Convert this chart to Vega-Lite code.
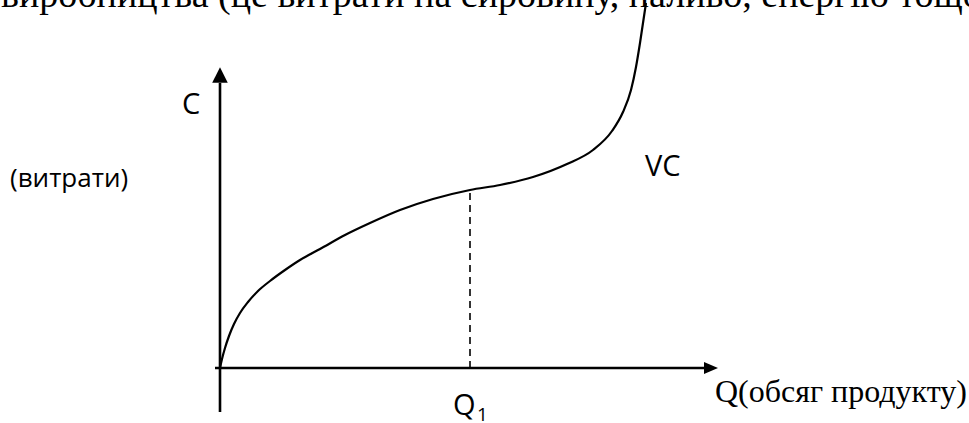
{
  "$schema": "https://vega.github.io/schema/vega-lite/v6.json",
  "width": 969,
  "height": 423,
  "autosize": {"type": "none"},
  "padding": 0,
  "background": "white",
  "config": {"view": {"stroke": null}},
  "datasets": {
    "curve": [
      {"q": 0, "c": 0}, {"q": 2, "c": 9}, {"q": 5, "c": 20}, {"q": 9, "c": 32},
      {"q": 14, "c": 44}, {"q": 20, "c": 55}, {"q": 28, "c": 66}, {"q": 38, "c": 77},
      {"q": 50, "c": 87}, {"q": 65, "c": 98}, {"q": 80, "c": 108}, {"q": 100, "c": 119},
      {"q": 125, "c": 133}, {"q": 150, "c": 145}, {"q": 180, "c": 158}, {"q": 213, "c": 169},
      {"q": 250, "c": 178}, {"q": 280, "c": 183}, {"q": 313, "c": 191}, {"q": 347, "c": 204},
      {"q": 373, "c": 218}, {"q": 392, "c": 237}, {"q": 403, "c": 256}, {"q": 411, "c": 278},
      {"q": 416, "c": 301}, {"q": 420, "c": 325}, {"q": 426, "c": 365}
    ],
    "axes": [
      {"axis": "C", "q": 0, "c": -44, "q2": 0, "c2": 285},
      {"axis": "Q", "q": -5, "c": 0, "q2": 486, "c2": 0}
    ],
    "heads": [
      {"axis": "C", "q": 0, "c": 293},
      {"axis": "Q", "q": 491, "c": 0}
    ],
    "q1": [{"q": 250, "c": 0, "q2": 250, "c2": 178}],
    "serif": [
      {"text": "виробництва (це витрати на сировину, паливо, енергію тощо", "q": -219, "c": 361},
      {"text": "Q(обсяг продукту)", "q": 495, "c": -34}
    ],
    "sans": [
      {"text": "C", "q": -38, "c": 254},
      {"text": "VC", "q": 425, "c": 192},
      {"text": "Q", "q": 233, "c": -47}
    ],
    "note": [{"text": "(витрати)", "q": -210, "c": 181}],
    "sub": [{"text": "1", "q": 257, "c": -53}]
  },
  "layer": [
    {
      "data": {"name": "axes"},
      "mark": {"type": "rule", "color": "black", "strokeWidth": 2.6},
      "encoding": {
        "x": {"field": "q", "type": "quantitative", "scale": {"domain": [-220, 749], "nice": false, "zero": false}, "axis": null},
        "y": {"field": "c", "type": "quantitative", "scale": {"domain": [-55, 368], "nice": false, "zero": false}, "axis": null},
        "x2": {"field": "q2"},
        "y2": {"field": "c2"}
      }
    },
    {
      "data": {"name": "heads"},
      "transform": [{"filter": "datum.axis === 'C'"}],
      "mark": {"type": "point", "filled": true, "color": "black", "opacity": 1, "shape": "M0,-1L1,1L-1,1Z", "size": 243, "strokeWidth": 0},
      "encoding": {
        "x": {"field": "q", "type": "quantitative"},
        "y": {"field": "c", "type": "quantitative"}
      }
    },
    {
      "data": {"name": "heads"},
      "transform": [{"filter": "datum.axis === 'Q'"}],
      "mark": {"type": "point", "filled": true, "color": "black", "opacity": 1, "shape": "M1,0L-1,-0.85L-1,0.85Z", "size": 196, "strokeWidth": 0},
      "encoding": {
        "x": {"field": "q", "type": "quantitative"},
        "y": {"field": "c", "type": "quantitative"}
      }
    },
    {
      "data": {"name": "q1"},
      "mark": {"type": "rule", "color": "black", "strokeWidth": 1.6, "strokeDash": [7, 5]},
      "encoding": {
        "x": {"field": "q", "type": "quantitative"},
        "y": {"field": "c", "type": "quantitative"},
        "x2": {"field": "q2"},
        "y2": {"field": "c2"}
      }
    },
    {
      "data": {"name": "curve"},
      "mark": {"type": "line", "color": "black", "strokeWidth": 2.2, "interpolate": "monotone"},
      "encoding": {
        "x": {"field": "q", "type": "quantitative"},
        "y": {"field": "c", "type": "quantitative"},
        "order": {"field": "q"}
      }
    },
    {
      "data": {"name": "serif"},
      "mark": {"type": "text", "font": "Liberation Serif", "fontSize": 32, "align": "left", "baseline": "alphabetic", "color": "black"},
      "encoding": {
        "x": {"field": "q", "type": "quantitative"},
        "y": {"field": "c", "type": "quantitative"},
        "text": {"field": "text"},
        "size": {"condition": {"test": "datum.c > 300", "value": 38}, "value": 32}
      }
    },
    {
      "data": {"name": "sans"},
      "mark": {"type": "text", "font": "Open Sans", "fontSize": 29, "align": "left", "baseline": "alphabetic", "color": "black"},
      "encoding": {
        "x": {"field": "q", "type": "quantitative"},
        "y": {"field": "c", "type": "quantitative"},
        "text": {"field": "text"}
      }
    },
    {
      "data": {"name": "note"},
      "mark": {"type": "text", "font": "Open Sans", "fontSize": 26, "align": "left", "baseline": "alphabetic", "color": "black"},
      "encoding": {
        "x": {"field": "q", "type": "quantitative"},
        "y": {"field": "c", "type": "quantitative"},
        "text": {"field": "text"}
      }
    },
    {
      "data": {"name": "sub"},
      "mark": {"type": "text", "font": "Open Sans", "fontSize": 19, "align": "left", "baseline": "alphabetic", "color": "black"},
      "encoding": {
        "x": {"field": "q", "type": "quantitative"},
        "y": {"field": "c", "type": "quantitative"},
        "text": {"field": "text"}
      }
    }
  ]
}
